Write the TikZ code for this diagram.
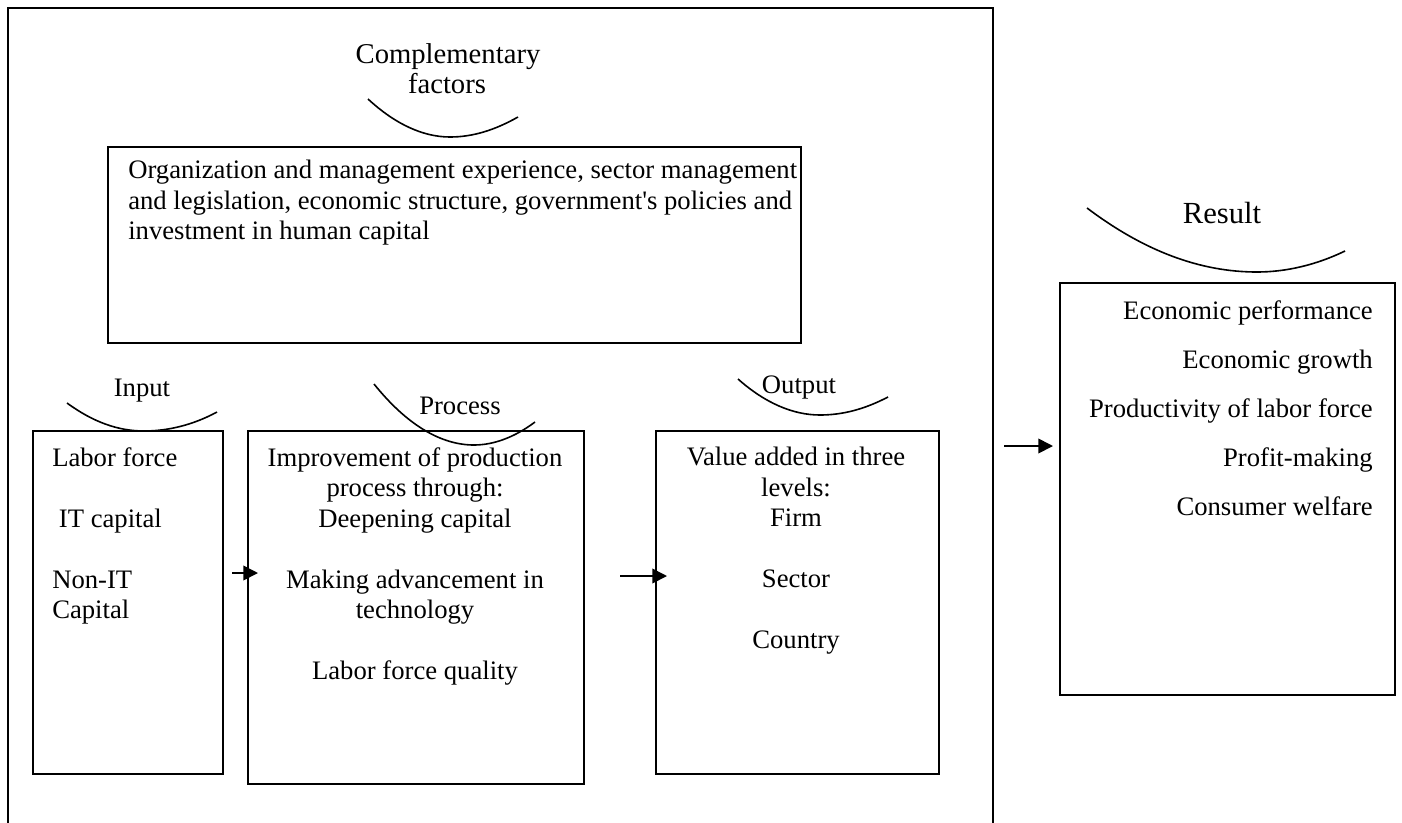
\documentclass[tikz,border=0pt]{standalone}
\usepackage{fontspec}
\setmainfont{Liberation Serif}
\newfontfamily\plainrm{Liberation Serif}
\usetikzlibrary{arrows.meta}
\begin{document}
\begin{tikzpicture}[x=0.75pt,y=-0.75pt,
  box/.style={draw,line width=1.4pt,inner sep=0pt,anchor=north west},
  arcline/.style={line width=1.2pt},
  lbl/.style={font=\fontsize{20}{23}\selectfont,inner sep=0pt,anchor=base},
  txt/.style={font=\fontsize{20}{22.9}\selectfont,inner sep=0pt},
  conn/.style={line width=1.3pt,-{Triangle[length=11pt,width=11pt]}}]
\useasboundingbox (0,0) rectangle (1402,822);
\begin{scope}
\clip (0,0) rectangle (1402,822);
\node[box,minimum width=738.75pt,minimum height=630pt] (frame) at (7,7) {};
\end{scope}
% boxes
\node[box,minimum width=519.75pt,minimum height=147pt] (comp) at (107,146) {};
\node[box,minimum width=142.5pt,minimum height=257.25pt] (input) at (32,430) {};
\node[box,minimum width=252pt,minimum height=264.75pt] (process) at (247,430) {};
\node[box,minimum width=212.25pt,minimum height=257.25pt] (output) at (655,430) {};
\node[box,minimum width=251.25pt,minimum height=309pt] (result) at (1059,282) {};
% arcs
\draw[arcline] (368,99) .. controls (395,124) and (423,137) .. (450,137) .. controls (473,137) and (495,130) .. (518,117);
\draw[arcline] (1087,208) .. controls (1144,251) and (1200,272) .. (1257,272) .. controls (1286,272) and (1316,265) .. (1345,251);
\draw[arcline] (67,403) .. controls (93,422) and (118,431) .. (144,431) .. controls (168,431) and (193,425) .. (217,412);
\draw[arcline] (374,384) .. controls (407,425) and (441,445) .. (474,445) .. controls (494,445) and (515,437) .. (535,422);
\draw[arcline] (738,379) .. controls (765,403) and (793,415) .. (820,415) .. controls (843,415) and (865,409) .. (888,397);
% labels
\node[lbl,font=\fontsize{21.5}{22.5}\selectfont] (compl1) at (448,63) {Complementary};
\node[lbl,font=\fontsize{21.5}{22.5}\selectfont] (compl2) at (447,93) {factors};
\node[lbl,font=\fontsize{23}{25}\selectfont] (resl) at (1222,223) {Result};
\node[lbl] (inl) at (142,396) {Input};
\node[lbl] (prl) at (460,414) {Process};
\node[lbl] (outl) at (799,393) {Output};
% texts
\node[txt,anchor=north west,align=left] (compt) at (128,160) {Organization and management experience, sector management\\and legislation, economic structure, government{\plainrm'}s policies and\\investment in human capital};
\node[txt,anchor=north west,align=left] (inpt) at (52,447) {Labor force\\[22.9pt]\hspace{5pt}IT capital\\[22.9pt]Non-IT\\Capital};
\node[txt,anchor=north,align=center] (prt) at (415,447) {Improvement of production\\process through:\\Deepening capital\\[22.9pt]Making advancement in\\technology\\[22.9pt]Labor force quality};
\node[txt,anchor=north,align=center] (outt) at (796,447) {Value added in three\\levels:\\Firm\\[22.9pt]Sector\\[22.9pt]Country};
\node[txt,anchor=north east,align=right,font=\fontsize{20}{36.75}\selectfont] (rest) at (1373,300) {Economic performance\\Economic growth\\Productivity of labor force\\Profit-making\\Consumer welfare};
% connectors
\coordinate (ipa) at (232,573);
\coordinate (ipb) at (258,573);
\coordinate (poa) at (620,576);
\coordinate (pob) at (667,576);
\coordinate (ora) at (1004,446);
\coordinate (orb) at (1053,446);
\draw[conn] (ipa) -- (ipb);
\draw[conn] (poa) -- (pob);
\draw[conn] (ora) -- (orb);
\end{tikzpicture}
\end{document}
